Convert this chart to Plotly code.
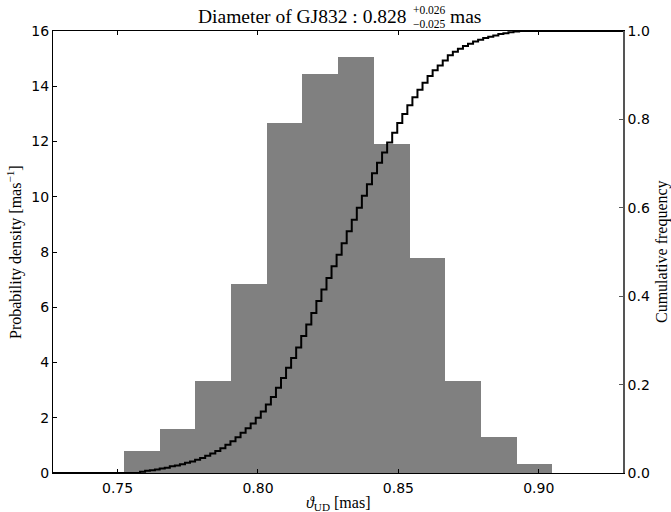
import plotly.graph_objects as go

# ---- data ----
bin_edges = [0.7523, 0.7650, 0.7777, 0.7904, 0.8031, 0.8158, 0.8285,
             0.8412, 0.8540, 0.8667, 0.8794, 0.8921, 0.9048]
density = [0.81, 1.59, 3.34, 6.83, 12.68, 14.43, 15.06, 11.90, 7.80, 3.34, 1.30, 0.32]

cum_x = [0.7270, 0.7562, 0.7580, 0.7598, 0.7615, 0.7633, 0.7650, 0.7668, 0.7686,
         0.7704, 0.7722, 0.7740, 0.7758, 0.7776, 0.7794, 0.7812, 0.7830, 0.7848,
         0.7866, 0.7884, 0.7902, 0.7920, 0.7938, 0.7956, 0.7974, 0.7992, 0.8010,
         0.8028, 0.8046, 0.8064, 0.8082, 0.8100, 0.8118, 0.8136, 0.8154, 0.8172,
         0.8190, 0.8208, 0.8226, 0.8244, 0.8262, 0.8280, 0.8298, 0.8316, 0.8334,
         0.8352, 0.8370, 0.8388, 0.8406, 0.8424, 0.8442, 0.8460, 0.8478, 0.8496,
         0.8514, 0.8532, 0.8550, 0.8568, 0.8586, 0.8604, 0.8622, 0.8640, 0.8658,
         0.8676, 0.8694, 0.8712, 0.8730, 0.8748, 0.8766, 0.8784, 0.8802, 0.8820,
         0.8838, 0.8856, 0.8874, 0.8892, 0.8910, 0.8930, 0.9300]
cum_y = [0.000, 0.000, 0.003, 0.005, 0.006, 0.008, 0.010, 0.012, 0.015,
         0.017, 0.020, 0.023, 0.026, 0.030, 0.034, 0.039, 0.044, 0.050,
         0.056, 0.064, 0.072, 0.081, 0.091, 0.101, 0.112, 0.125, 0.139,
         0.155, 0.172, 0.193, 0.215, 0.238, 0.260, 0.284, 0.310, 0.336,
         0.362, 0.389, 0.415, 0.441, 0.468, 0.494, 0.520, 0.547, 0.573,
         0.600, 0.627, 0.653, 0.678, 0.702, 0.725, 0.748, 0.770, 0.792,
         0.812, 0.832, 0.850, 0.867, 0.883, 0.898, 0.911, 0.922, 0.933,
         0.945, 0.953, 0.960, 0.966, 0.971, 0.976, 0.980, 0.984, 0.987,
         0.990, 0.993, 0.995, 0.997, 0.999, 1.000, 1.000]

x_ticks = [0.75, 0.80, 0.85, 0.90]
x_tick_text = ["0.75", "0.80", "0.85", "0.90"]
y_ticks = [0, 2, 4, 6, 8, 10, 12, 14, 16]
y2_ticks = [0.0, 0.2, 0.4, 0.6, 0.8, 1.0]
y2_tick_text = ["0.0", "0.2", "0.4", "0.6", "0.8", "1.0"]

title_main = "Diameter of GJ832 : 0.828"
title_sup = "+0.026"
title_sub = "\u22120.025"
title_unit = "mas"

# ---- figure ----
centers = [(a + b) / 2 for a, b in zip(bin_edges[:-1], bin_edges[1:])]
widths = [b - a for a, b in zip(bin_edges[:-1], bin_edges[1:])]

fig = go.Figure()
fig.add_trace(go.Bar(x=centers, y=density, width=widths,
                     marker=dict(color="#808080", line=dict(width=0)),
                     showlegend=False))
fig.add_trace(go.Scatter(x=cum_x, y=cum_y, mode="lines", yaxis="y2",
                         line=dict(color="black", width=2, shape="hv"),
                         showlegend=False))

tickfont = dict(family="DejaVu Sans", size=14, color="black")
serif = "Liberation Serif"

L, R, T, B = 53, 623, 31, 473
W, H = 671, 512
def px(x):
    return (x - L) / (R - L)
def py(y):
    return (B - y) / (B - T)

fig.update_layout(
    width=W, height=H,
    margin=dict(l=L, r=W - R, t=T, b=H - B, pad=0),
    paper_bgcolor="white", plot_bgcolor="white",
    bargap=0,
    xaxis=dict(range=[0.727, 0.930], tickvals=x_ticks, ticktext=x_tick_text,
               ticks="inside", ticklen=4, tickcolor="black", tickwidth=1,
               showline=True, linecolor="black", linewidth=1, mirror="ticks",
               showgrid=False, zeroline=False, tickfont=tickfont,
               ticklabelstandoff=2),
    yaxis=dict(range=[0, 16], tickvals=y_ticks, ticks="inside", ticklen=4,
               tickcolor="black", tickwidth=1, showline=True, linecolor="black",
               linewidth=1, showgrid=False, zeroline=False, tickfont=tickfont),
    yaxis2=dict(range=[0, 1], tickvals=y2_ticks, ticktext=y2_tick_text,
                overlaying="y", side="right", ticks="inside", ticklen=4,
                tickcolor="#555555", tickwidth=1, showline=True,
                linecolor="#555555", linewidth=1.5, showgrid=False,
                zeroline=False, tickfont=tickfont),
)

ann = [
    dict(text=title_main, x=px(409), y=py(17), xanchor="right", yanchor="middle",
         font=dict(family=serif, size=19.5, color="black")),
    dict(text=title_sup, x=px(411), y=py(10.5), xanchor="left", yanchor="middle",
         font=dict(family=serif, size=11.5, color="black")),
    dict(text=title_sub, x=px(411), y=py(24), xanchor="left", yanchor="middle",
         font=dict(family=serif, size=11.5, color="black")),
    dict(text=title_unit, x=px(448), y=py(17), xanchor="left", yanchor="middle",
         font=dict(family=serif, size=19.5, color="black")),
    dict(text="Probability density [mas<sup>\u22121</sup>]", x=px(14), y=0.5,
         textangle=-90, xanchor="center", yanchor="middle",
         font=dict(family=serif, size=16, color="black")),
    dict(text="Cumulative frequency", x=px(662), y=0.5,
         textangle=-90, xanchor="center", yanchor="middle",
         font=dict(family=serif, size=16, color="black")),
    dict(text="<i>\u03d1</i><sub>UD</sub> [mas]", x=0.5, y=py(503),
         xanchor="center", yanchor="middle",
         font=dict(family=serif, size=16, color="black")),
]
for a in ann:
    a.update(xref="paper", yref="paper", showarrow=False)
fig.update_layout(annotations=ann)

fig.write_html("out.html")
